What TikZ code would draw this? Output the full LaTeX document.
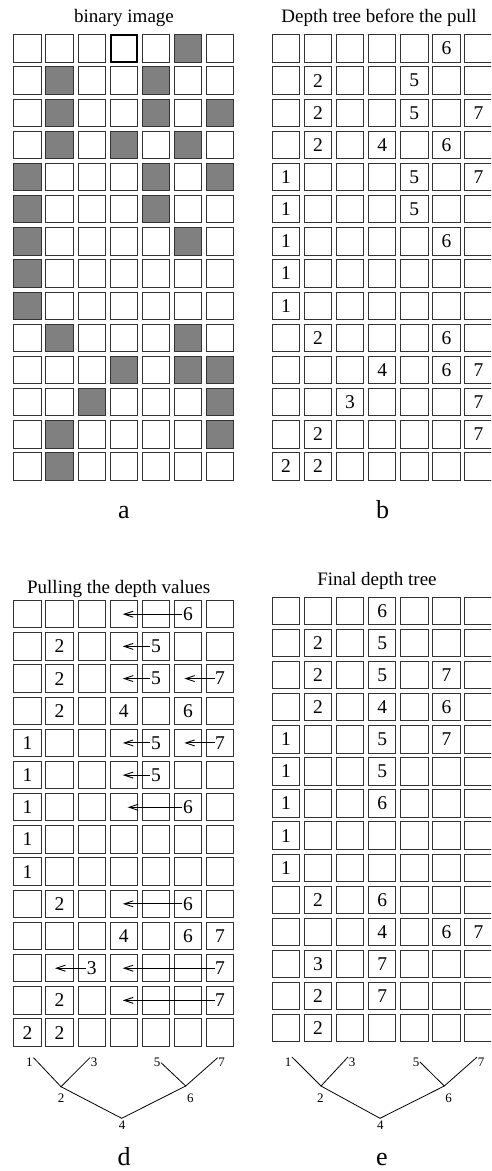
\documentclass[tikz,border=0pt]{standalone}
\usepackage{fontspec}
\setmainfont{Liberation Serif}
\usetikzlibrary{arrows.meta,calc}
\tikzset{
  cell/.style={draw=black!80, line width=1pt, minimum size=27.4pt, inner sep=0pt, outer sep=0pt},
  dark/.style={cell, fill=black!50},
  thickcell/.style={cell, draw=black, line width=2pt, minimum size=26.4pt},
  num/.style={font=\fontsize{19.5}{19.5}\selectfont, inner sep=0.5pt},
  title/.style={font=\fontsize{19}{19}\selectfont, anchor=base, inner sep=0pt},
  letter/.style={font=\fontsize{26}{26}\selectfont, anchor=base, inner sep=0pt},
  tlab/.style={font=\fontsize{13}{13}\selectfont, inner sep=0.5pt},
  pull/.style={-{Straight Barb[length=9pt,width=6pt]}, line width=0.9pt},
  treeedge/.style={line width=0.8pt},
}
\begin{document}
\begin{tikzpicture}[x=1pt,y=-1pt]
\clip (0,0) rectangle (491,1171);
\useasboundingbox (0,0) rectangle (491,1171);
\fill[white] (0,0) rectangle (491,1171);

% ---------- panel a : binary image ----------
\node[title] (ta) at (124,22.5) {binary image};
\foreach \row [count=\r] in {
  {0,0,0,2,0,1,0},{0,1,0,0,1,0,0},{0,1,0,0,1,0,1},{0,1,0,1,0,1,0},
  {1,0,0,0,1,0,1},{1,0,0,0,1,0,0},{1,0,0,0,0,1,0},{1,0,0,0,0,0,0},
  {1,0,0,0,0,0,0},{0,1,0,0,0,1,0},{0,0,0,1,0,1,1},{0,0,1,0,0,0,1},
  {0,1,0,0,0,0,1},{0,1,0,0,0,0,0}} {
  \foreach \v [count=\c] in \row {
    \ifcase\v \def\st{cell}\or \def\st{dark}\or \def\st{thickcell}\fi
    \node[\st] (a-\r-\c) at ({13.3+(\c-1)*32.1+14.2},{34.3+(\r-1)*32.15+14.2}) {};
  }
}
\node[letter] (la) at (124,518) {a};

% ---------- panel b : depth tree before the pull ----------
\node[title] (tb) at (379,22.7) {Depth tree before the pull};
\foreach \r in {1,...,14} \foreach \c in {1,...,7}
  \node[cell] (b-\r-\c) at ({271.7+(\c-1)*32.1+14.2},{34.3+(\r-1)*32.15+14.2}) {};
\foreach \r/\c/\n in {1/6/6, 2/2/2, 2/5/5, 3/2/2, 3/5/5, 3/7/7, 4/2/2, 4/4/4, 4/6/6,
  5/1/1, 5/5/5, 5/7/7, 6/1/1, 6/5/5, 7/1/1, 7/6/6, 8/1/1, 9/1/1, 10/2/2, 10/6/6,
  11/4/4, 11/6/6, 11/7/7, 12/3/3, 12/7/7, 13/2/2, 13/7/7, 14/1/2, 14/2/2}
  \node[num] (bn-\r-\c) at (b-\r-\c.center) {\n};
\node[letter] (lb) at (382.5,518) {b};

% ---------- panel d : pulling the depth values ----------
\node[title] (td) at (118.7,593.3) {Pulling the depth values};
\foreach \r in {1,...,14} \foreach \c in {1,...,7}
  \node[cell] (d-\r-\c) at ({13.3+(\c-1)*32.1+14.2},{600+(\r-1)*32.18+14.2}) {};
\foreach \r/\c/\n in {1/6/6, 2/2/2, 2/5/5, 3/2/2, 3/5/5, 3/7/7, 4/2/2, 4/4/4, 4/6/6,
  5/1/1, 5/5/5, 5/7/7, 6/1/1, 6/5/5, 7/1/1, 7/6/6, 8/1/1, 9/1/1, 10/2/2, 10/6/6,
  11/4/4, 11/6/6, 11/7/7, 12/3/3, 12/7/7, 13/2/2, 13/7/7, 14/1/2, 14/2/2}
  \node[num] (dn-\r-\c) at (d-\r-\c.center) {\n};
\foreach \r/\c/\tc/\dx in {1/6/4/-1, 2/5/4/-1, 3/5/4/-1, 3/7/6/-3.7,
  5/5/4/-1, 5/7/6/-3.7, 6/5/4/-1, 7/6/4/3.9, 10/6/4/-1,
  12/3/2/-4.6, 12/7/4/-1, 13/7/4/-1} {
  \coordinate (tip-\r-\c) at ($(d-\r-\tc.center)+(\dx,0)$);
  \draw[pull] (dn-\r-\c.west) -- (tip-\r-\c);
}
% tree d
\node[tlab] (d1) at (29.5,1062.6) {1};
\node[tlab] (d3) at (94,1062.6) {3};
\node[tlab] (d5) at (157,1062.6) {5};
\node[tlab] (d7) at (221.7,1062.6) {7};
\node[tlab] (d2) at (61,1098) {2};
\node[tlab] (d6) at (190.3,1098) {6};
\node[tlab] (d4) at (122,1125.5) {4};
\coordinate (dj2) at (61,1086.7);
\coordinate (dj6) at (185.7,1086);
\coordinate (dj4) at (121.7,1118.3);
\draw[treeedge] (d1.north east) -- (dj2) -- (d3.north west);
\draw[treeedge] (dj2) -- (dj4) -- (dj6);
\draw[treeedge] (d5.east) -- (dj6) -- (d7.north west);
\node[letter] (ld) at (124,1165) {d};

% ---------- panel e : final depth tree ----------
\node[title] (te) at (377,585) {Final depth tree};
\foreach \r in {1,...,14} \foreach \c in {1,...,7}
  \node[cell] (e-\r-\c) at ({271.7+(\c-1)*32.1+14.2},{596.7+(\r-1)*32.1+14.2}) {};
\foreach \r/\c/\n in {1/4/6, 2/2/2, 2/4/5, 3/2/2, 3/4/5, 3/6/7, 4/2/2, 4/4/4, 4/6/6,
  5/1/1, 5/4/5, 5/6/7, 6/1/1, 6/4/5, 7/1/1, 7/4/6, 8/1/1, 9/1/1, 10/2/2, 10/4/6,
  11/4/4, 11/6/6, 11/7/7, 12/2/3, 12/4/7, 13/2/2, 13/4/7, 14/2/2}
  \node[num] (en-\r-\c) at (e-\r-\c.center) {\n};
% tree e
\node[tlab] (e1) at (288,1062) {1};
\node[tlab] (e3) at (352,1062) {3};
\node[tlab] (e5) at (416,1062) {5};
\node[tlab] (e7) at (481,1062) {7};
\node[tlab] (e2) at (320.3,1098) {2};
\node[tlab] (e6) at (448.7,1098) {6};
\node[tlab] (e4) at (380.3,1125.5) {4};
\coordinate (ej2) at (321,1086);
\coordinate (ej6) at (444.3,1086);
\coordinate (ej4) at (380,1118.3);
\draw[treeedge] (e1.north east) -- (ej2) -- (e3.north west);
\draw[treeedge] (ej2) -- (ej4) -- (ej6);
\draw[treeedge] (e5.east) -- (ej6) -- (e7.north west);
\node[letter] (le) at (382,1165) {e};
\end{tikzpicture}
\end{document}
